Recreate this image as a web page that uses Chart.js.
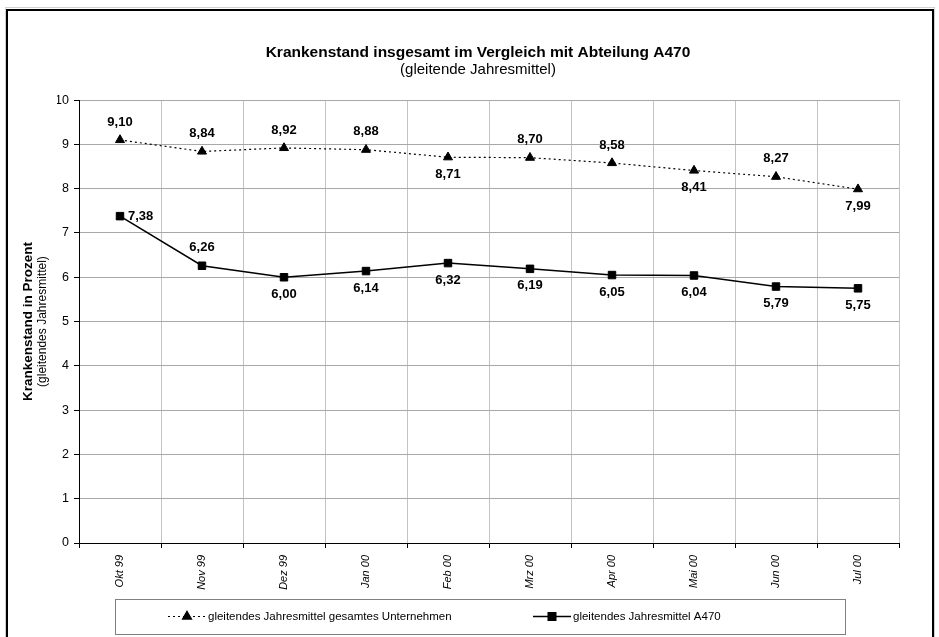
<!DOCTYPE html>
<html>
<head>
<meta charset="utf-8">
<script src="https://cdn.jsdelivr.net/npm/chart.js@4/dist/chart.umd.min.js"></script>
<style>
  html, body { margin: 0; padding: 0; background: #fff; }
  #wrap { position: relative; width: 939px; height: 637px; }
</style>
</head>
<body>
<div id="wrap"><canvas id="krankChart" width="939" height="637"></canvas></div>
<script>
// Monate (Kategorien)
const months = ["Okt 99", "Nov 99", "Dez 99", "Jan 00", "Feb 00", "Mrz 00", "Apr 00", "Mai 00", "Jun 00", "Jul 00"];

// gleitendes Jahresmittel gesamtes Unternehmen
const gesamtWerte = [9.10, 8.84, 8.92, 8.88, 8.71, 8.70, 8.58, 8.41, 8.27, 7.99];
// gleitendes Jahresmittel A470
const a470Werte = [7.38, 6.26, 6.00, 6.14, 6.32, 6.19, 6.05, 6.04, 5.79, 5.75];

// Beschriftung oben/unten/rechts vom Punkt
const gesamtLabelPos = ["above", "above", "above", "above", "below", "above", "above", "below", "above", "below"];
const a470LabelPos = ["right", "above", "below", "below", "below", "below", "below", "below", "below", "below"];

const yTicks = [0, 1, 2, 3, 4, 5, 6, 7, 8, 9, 10];

const FONT = "'Liberation Sans', Arial, sans-serif";

// Rahmen um das ganze Diagramm
const framePlugin = {
  id: "frame",
  beforeDraw(chart) {
    const ctx = chart.ctx;
    ctx.save();
    ctx.fillStyle = "#fff";
    ctx.fillRect(0, 0, chart.width, chart.height);
    ctx.strokeStyle = "#d0d0d0";
    ctx.lineWidth = 1;
    ctx.strokeRect(5.5, 7.5, 929, 700);
    ctx.strokeStyle = "#000";
    ctx.lineWidth = 2;
    ctx.strokeRect(7, 10, 926, 700);
    ctx.restore();
  },
};

// Werte an den Punkten
const valueLabelPlugin = {
  id: "valueLabels",
  afterDatasetsDraw(chart) {
    const ctx = chart.ctx;
    const posLists = [gesamtLabelPos, a470LabelPos];
    ctx.save();
    ctx.font = "bold 13px " + FONT;
    ctx.fillStyle = "#000";
    chart.data.datasets.forEach((ds, di) => {
      const meta = chart.getDatasetMeta(di);
      meta.data.forEach((pt, i) => {
        const txt = ds.data[i].toFixed(2).replace(".", ",");
        const pos = posLists[di][i];
        ctx.textBaseline = "middle";
        if (pos === "right") {
          ctx.textAlign = "left";
          ctx.fillText(txt, pt.x + 8, pt.y);
        } else {
          ctx.textAlign = "center";
          ctx.fillText(txt, pt.x, pos === "above" ? pt.y - 18 : pt.y + 17);
        }
      });
    });
    ctx.restore();
  },
};

// Achsentitel (zweizeilig, zwei Schriften) und Legende mit Rahmen
const extrasPlugin = {
  id: "extras",
  afterDraw(chart) {
    const ctx = chart.ctx;
    const area = chart.chartArea;
    const midY = (area.top + area.bottom) / 2;
    ctx.save();
    ctx.fillStyle = "#000";
    ctx.textAlign = "center";
    ctx.textBaseline = "middle";
    ctx.translate(28, midY);
    ctx.rotate(-Math.PI / 2);
    ctx.font = "bold 13.5px " + FONT;
    ctx.fillText("Krankenstand in Prozent", 0, 0);
    ctx.font = "12px " + FONT;
    ctx.fillText("(gleitendes Jahresmittel)", 0, 15);
    ctx.restore();

    // Legende
    const boxL = area.left + 36, boxR = area.right - 54;
    const boxT = area.bottom + 56, boxB = area.bottom + 91;
    const cy = (boxT + boxB) / 2;
    ctx.save();
    ctx.strokeStyle = "#808080";
    ctx.lineWidth = 1;
    ctx.strokeRect(boxL + 0.5, boxT + 0.5, boxR - boxL, boxB - boxT);

    const items = chart.data.datasets.map((ds, i) => ({ ds, x: i === 0 ? boxL + 53 : boxL + 418 }));
    items.forEach(({ ds, x }) => {
      ctx.strokeStyle = "#000";
      ctx.fillStyle = "#000";
      ctx.lineWidth = ds.borderWidth;
      ctx.setLineDash(ds.borderDash || []);
      ctx.beginPath();
      ctx.moveTo(x, cy);
      ctx.lineTo(x + 38, cy);
      ctx.stroke();
      ctx.setLineDash([]);
      Chart.helpers.drawPoint(ctx, { pointStyle: ds.pointStyle, radius: ds.pointRadius, rotation: 0, borderWidth: 1 }, x + 19, cy);
      ctx.font = "11.5px " + FONT;
      ctx.textAlign = "left";
      ctx.textBaseline = "middle";
      ctx.fillText(ds.label, x + 40, cy);
    });
    ctx.restore();
  },
};

new Chart(document.getElementById("krankChart").getContext("2d"), {
  type: "line",
  data: {
    labels: months,
    datasets: [
      {
        label: "gleitendes Jahresmittel gesamtes Unternehmen",
        data: gesamtWerte,
        borderColor: "#000",
        backgroundColor: "#000",
        borderWidth: 1.2,
        borderDash: [2, 3],
        pointStyle: "triangle",
        pointRadius: 5.2,
        pointBorderWidth: 1,
        tension: 0,
        fill: false,
      },
      {
        label: "gleitendes Jahresmittel A470",
        data: a470Werte,
        borderColor: "#000",
        backgroundColor: "#000",
        borderWidth: 1.5,
        pointStyle: "rect",
        pointRadius: 5.3,
        pointBorderWidth: 1,
        tension: 0,
        fill: false,
      },
    ],
  },
  options: {
    responsive: false,
    animation: false,
    layout: { padding: { left: 57, right: 40, top: 0, bottom: 0 } },
    plugins: {
      legend: { display: false },
      tooltip: { enabled: false },
      title: {
        display: true,
        text: "Krankenstand insgesamt im Vergleich mit Abteilung A470",
        color: "#000",
        font: { family: FONT, size: 15.5, weight: "bold", lineHeight: 1.2 },
        padding: { top: 43, bottom: 0 },
      },
      subtitle: {
        display: true,
        text: "(gleitende Jahresmittel)",
        color: "#000",
        font: { family: FONT, size: 15, weight: "normal", lineHeight: 1.1 },
        padding: { top: 0, bottom: 22 },
      },
    },
    scales: {
      x: {
        type: "category",
        offset: true,
        grid: { offset: true, color: "#c4c4c4", tickColor: "#000", tickLength: 5 },
        border: { color: "#000", width: 1 },
        ticks: {
          color: "#000",
          minRotation: 90,
          maxRotation: 90,
          padding: 7,
          font: { family: FONT, size: 11, style: "italic" },
        },
        afterFit(scale) { scale.height = 94; },
      },
      y: {
        min: 0,
        max: 10,
        afterBuildTicks(scale) { scale.ticks = yTicks.map(v => ({ value: v })); },
        grid: { color: "#a8a8a8", tickColor: "#000", tickLength: 5 },
        border: { color: "#000", width: 1 },
        ticks: {
          color: "#000",
          padding: 5,
          font: { family: FONT, size: 12.5 },
        },
        afterFit(scale) { scale.width = 22; },
      },
    },
  },
  plugins: [framePlugin, valueLabelPlugin, extrasPlugin],
});
</script>
</body>
</html>
